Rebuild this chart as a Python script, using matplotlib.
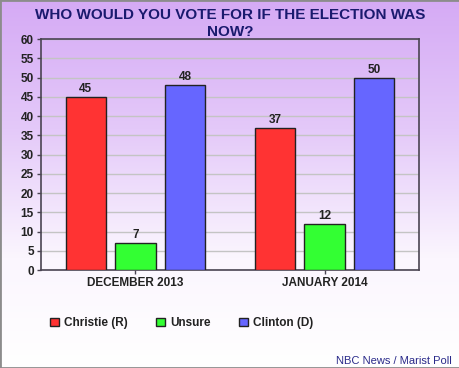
import numpy as np
import matplotlib
matplotlib.use("Agg")
import matplotlib.pyplot as plt
from matplotlib.colors import LinearSegmentedColormap
from matplotlib.patches import Patch

categories = ["DECEMBER 2013", "JANUARY 2014"]
series_names = ["Christie (R)", "Unsure", "Clinton (D)"]
christie = [45, 37]
unsure = [7, 12]
clinton = [48, 50]
series_values = [christie, unsure, clinton]
colors = ["#ff3333", "#33ff33", "#6666ff"]
yticks = list(range(0, 61, 5))

plt.rcParams['font.family'] = ['Liberation Sans', 'DejaVu Sans']

fig = plt.figure(figsize=(4.6, 3.68), dpi=100)

# background gradient
bg = fig.add_axes([0, 0, 1, 1], zorder=-10)
cmap = LinearSegmentedColormap.from_list("g", [(0, "#d5aaf5"), (0.35, "#e4c9f9"),
                                               (0.7, "#fbf6fe"), (1, "#ffffff")], N=256)
grad = np.linspace(0, 1, 256).reshape(-1, 1)
bg.imshow(grad, aspect='auto', cmap=cmap, extent=[0, 1, 0, 1], origin='upper')
bg.set_axis_off()
bg.add_patch(plt.Rectangle((0, 0), 1, 1, transform=bg.transAxes, fill=False,
                           edgecolor="#8c8c8c", linewidth=2))

ax = fig.add_axes([0.089, 0.266, 0.822, 0.628])
ax.set_facecolor("none")

x = np.arange(len(categories))
width = 0.212
offsets = [-0.262, 0, 0.262]
for vals, off, c, name in zip(series_values, offsets, colors, series_names):
    bars = ax.bar(x + off, vals, width, color=c, edgecolor="#222222", linewidth=1.0,
                  label=name, zorder=3)
    for b, v in zip(bars, vals):
        ax.text(b.get_x() + b.get_width() / 2, v + 0.5, str(v), ha='center', va='bottom',
                fontsize=8.5, fontweight='bold', color="#222222", zorder=4)

ax.set_xlim(-0.5, 1.5)
ax.set_ylim(0, 60)
ax.set_yticks(yticks)
ax.set_yticklabels([str(t) for t in yticks], fontsize=8.5, fontweight='bold', color="#222222")
ax.set_xticks(x)
ax.set_xticklabels(categories, fontsize=8.5, fontweight='bold', color="#222222")
ax.yaxis.grid(True, color="#c4c4c4", linewidth=1.0, zorder=0)
ax.set_axisbelow(True)
for s in ax.spines.values():
    s.set_color("#4a4452")
    s.set_linewidth(1.2)
ax.tick_params(axis='both', length=3, width=1, color="#4a4452", pad=2)

fig.text(0.5, 0.978, "WHO WOULD YOU VOTE FOR IF THE ELECTION WAS\nNOW?", ha='center', va='top',
         fontsize=11, fontweight='bold', color="#1a1a6e", linespacing=1.22)

handles = [Patch(facecolor=c, edgecolor="#222222", label=n) for c, n in zip(colors, series_names)]
leg = fig.legend(handles=handles, loc='center left', bbox_to_anchor=(0.108, 0.122), ncol=3,
                 frameon=False, prop={'size': 8.5, 'weight': 'bold'}, handlelength=0.75,
                 handleheight=0.75, handletextpad=0.45, columnspacing=2.4,
                 borderpad=0, borderaxespad=0)
for t in leg.get_texts():
    t.set_color("#222222")

fig.text(0.983, 0.006, "NBC News / Marist Poll", ha='right', va='bottom', fontsize=8,
         color="#2a2a8a")

fig.savefig("out.png", dpi=100)
